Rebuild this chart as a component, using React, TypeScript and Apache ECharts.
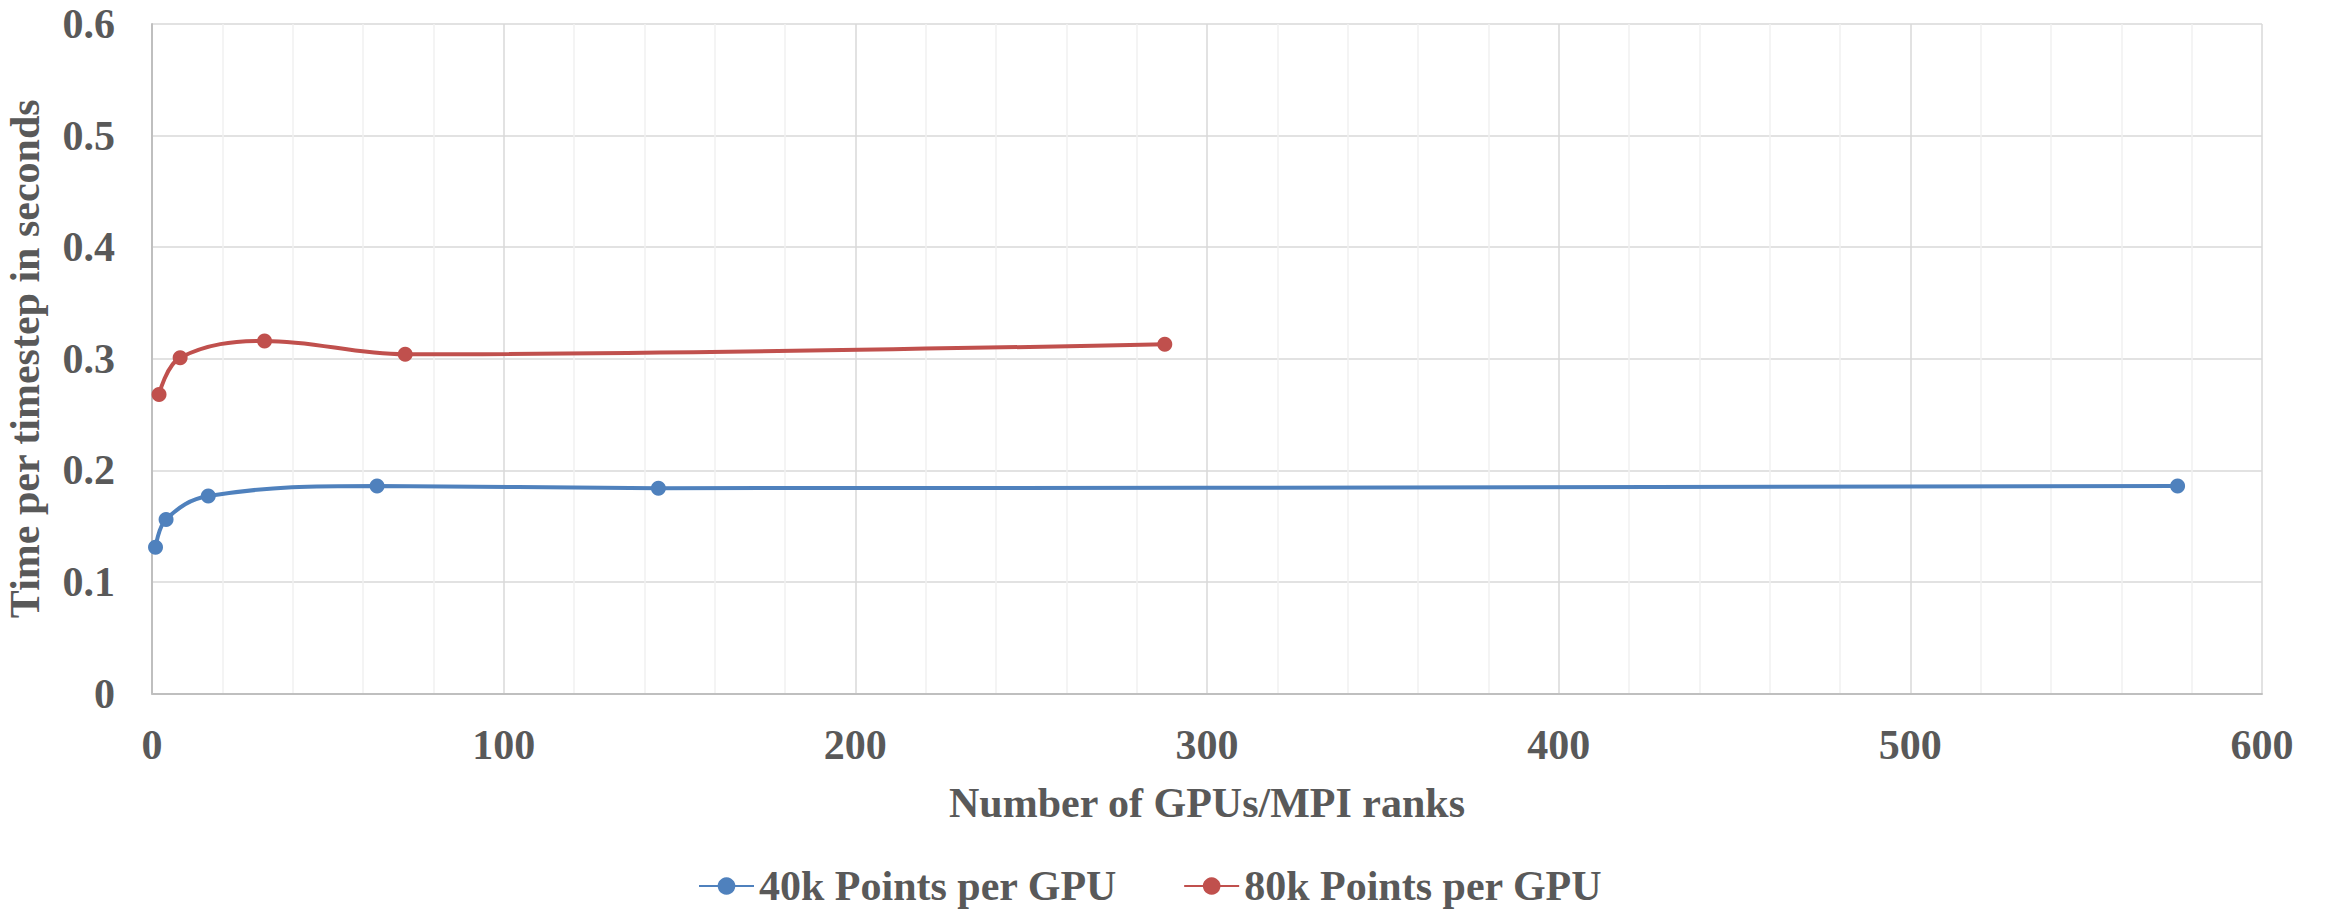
import React, { useEffect, useRef } from "react";
import * as echarts from "echarts";

// Strong-scaling timings: GPUs/MPI ranks vs. seconds per timestep
const gpus40k = [1, 4, 16, 64, 144, 576];
const time40k = [0.131, 0.156, 0.177, 0.186, 0.184, 0.186];
const gpus80k = [2, 8, 32, 72, 288];
const time80k = [0.268, 0.301, 0.316, 0.304, 0.313];

const seriesNames = ["40k Points per GPU", "80k Points per GPU"];
const xTitle = "Number of GPUs/MPI ranks";
const yTitle = "Time per timestep in seconds";

const FONT = "Liberation Serif";
const TEXT = "#595959";
const BLUE = "#4F81BD";
const RED = "#C0504D";

const pairs = (xs: number[], ys: number[]) => xs.map((x, i) => [x, ys[i]]);

export default function App() {
  const ref = useRef<HTMLDivElement>(null);

  useEffect(() => {
    if (!ref.current) return;
    const chart = echarts.init(ref.current, undefined, { renderer: "svg" });
    const textStyle = { fontFamily: FONT, fontWeight: "bold" as const, fontSize: 42, color: TEXT };
    const lineSeries = (name: string, data: number[][], color: string) => ({
      name,
      type: "line",
      data,
      smooth: 0.38,
      symbol: "circle",
      symbolSize: 15,
      itemStyle: { color },
      lineStyle: { color, width: 4 },
    });

    chart.setOption({
      animation: false,
      backgroundColor: "#ffffff",
      textStyle: { fontFamily: FONT },
      grid: {
        left: 152,
        top: 24,
        right: 63,
        bottom: 216.5,
        containLabel: false,
        outerBoundsMode: "none",
      },
      xAxis: {
        type: "value",
        min: 0,
        max: 600,
        interval: 100,
        name: xTitle,
        nameLocation: "middle",
        nameGap: 88,
        nameTextStyle: textStyle,
        axisLine: { show: true, lineStyle: { color: "#BFBFBF", width: 2 } },
        axisTick: { show: false },
        axisLabel: { ...textStyle, margin: 30 },
        splitLine: { show: true, lineStyle: { color: "#D9D9D9", width: 1.5 } },
        minorTick: { show: false, splitNumber: 5 },
        minorSplitLine: { show: true, lineStyle: { color: "#F0F0F0", width: 1.5 } },
      },
      yAxis: {
        type: "value",
        min: 0,
        max: 0.6,
        interval: 0.1,
        name: yTitle,
        nameLocation: "middle",
        nameGap: 106,
        nameTextStyle: textStyle,
        axisLine: { show: true, lineStyle: { color: "#BFBFBF", width: 2 } },
        axisTick: { show: false },
        axisLabel: { ...textStyle, margin: 37 },
        splitLine: { show: true, lineStyle: { color: "#D9D9D9", width: 1.5 } },
      },
      legend: {
        left: 698,
        top: 864,
        itemWidth: 55,
        itemHeight: 22,
        itemGap: 66,
        textStyle: { ...textStyle, lineHeight: 44, padding: [0, 0, 0, 0] },
        padding: 0,
        data: seriesNames,
      },
      series: [
        lineSeries(seriesNames[0], pairs(gpus40k, time40k), BLUE),
        lineSeries(seriesNames[1], pairs(gpus80k, time80k), RED),
      ],
    });

    return () => chart.dispose();
  }, []);

  return (
    <div
      ref={ref}
      style={{ position: "fixed", left: 0, top: 0, width: 2325, height: 910, background: "#fff" }}
    />
  );
}
